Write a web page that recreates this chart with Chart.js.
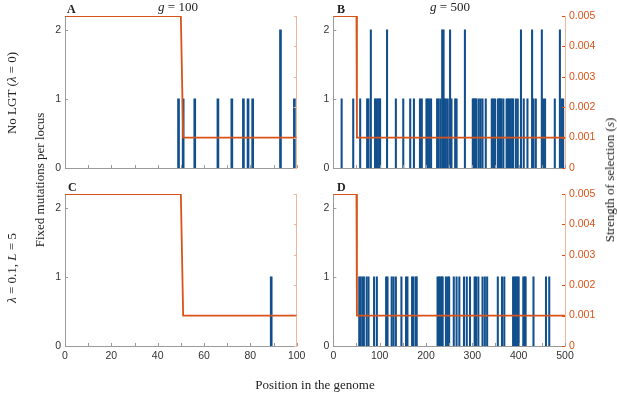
<!DOCTYPE html>
<html>
<head>
<meta charset="utf-8">
<script src="https://cdn.jsdelivr.net/npm/chart.js@4/dist/chart.umd.min.js"></script>
<style>
  body { margin: 0; background: #fff; }
  #wrap { position: relative; width: 617px; height: 395px; overflow: hidden; font-family: "Liberation Serif", serif; color: #222; }
  #wrap canvas { position: absolute; left: 0; top: 0; }
  .lbl { position: absolute; font-size: 13px; white-space: nowrap; }
  .rot { transform: translate(-50%, -50%) rotate(-90deg); }
  .ctr { transform: translate(-50%, -50%); }
  .letter { position: absolute; font-weight: bold; font-size: 12px; }
</style>
</head>
<body>
<div id="wrap">
  <canvas id="cA" width="617" height="395"></canvas>
  <canvas id="cB" width="617" height="395"></canvas>
  <canvas id="cC" width="617" height="395"></canvas>
  <canvas id="cD" width="617" height="395"></canvas>

  <div class="lbl ctr" style="left:178px; top:7px;"><i>g</i> = 100</div>
  <div class="lbl ctr" style="left:450px; top:7px;"><i>g</i> = 500</div>
  <div class="letter" style="left:67px; top:2px;">A</div>
  <div class="letter" style="left:337px; top:2px;">B</div>
  <div class="letter" style="left:68px; top:180px;">C</div>
  <div class="letter" style="left:337px; top:180px;">D</div>
  <div class="lbl rot" style="left:12px; top:93px;">No LGT (<i>λ</i> = 0)</div>
  <div class="lbl rot" style="left:12px; top:268px;"><i>λ</i> = 0.1, <i>L</i> = 5</div>
  <div class="lbl rot" style="left:40px; top:180px;">Fixed mutations per locus</div>
  <div class="lbl rot" style="left:610px; top:180px;">Strength of selection (<i>s</i>)</div>
  <div class="lbl ctr" style="left:315px; top:385px;">Position in the genome</div>
</div>

<script>
// --- DATA ---
// panel A: g = 100, no LGT
const aPos   = [49, 51, 56, 66, 72, 77, 79, 81, 93, 99];
const aCount = [1, 1, 1, 1, 1, 1, 1, 1, 2, 1];

// panel B: g = 500, no LGT
const bPos = [18, 43, 58, 73, 76, 81, 90, 93, 96, 99, 101, 116, 135, 151, 166, 174, 187, 191,
  201, 204, 207, 211, 224, 227, 231, 235, 238, 240, 243, 247, 252, 255, 263, 266, 284,
  301, 303, 305, 307, 309, 314, 318, 322, 329, 342, 345, 349, 355, 358, 360, 363, 367,
  374, 377, 380, 383, 386, 388, 394, 398, 405, 411, 419, 429, 432, 437, 450, 453, 457,
  478, 489, 493, 496];
const bCount = [1, 1, 1, 1, 1, 2, 1, 1, 1, 1, 1, 2, 1, 1, 1, 1, 1, 1,
  1, 1, 1, 1, 1, 1, 1, 2, 2, 1, 1, 1, 2, 1, 1, 1, 2,
  1, 1, 1, 1, 1, 1, 1, 1, 1, 1, 1, 1, 1, 1, 1, 1, 1,
  1, 1, 1, 1, 1, 1, 1, 1, 2, 1, 1, 2, 1, 1, 2, 1, 1,
  1, 2, 1, 1];

// panel C: g = 100, lambda = 0.1
const cPos   = [89];
const cCount = [1];

// panel D: g = 500, lambda = 0.1 (all single fixations)
const dPos = [56, 59, 63, 66, 72, 76, 88, 94, 114, 117, 126, 130, 135, 147, 157, 160, 170, 173,
  178, 180, 225, 228, 231, 234, 236, 243, 247, 250, 260, 266, 272, 282, 288, 295, 305, 308,
  313, 322, 327, 332, 355, 364, 369, 388, 391, 394, 397, 400, 410, 413, 415, 432, 459, 466];
const dCount = dPos.map(() => 1);

// selection strength profile (s): strong region at the start, weak elsewhere
const selPosSmall = [0, 50, 51, 100];
const selPosLarge = [0, 50, 51, 500];
const selValues   = [0.005, 0.005, 0.001, 0.001];

// axis ticks
const countTicks = [0, 1, 2];
const selTicks   = [0, 0.001, 0.002, 0.003, 0.004, 0.005];

// --- STYLE ---
const BAR = '#114f8d';
const ORANGE = '#d95319';
const PALE = '#f2b59b';
const GREY = '#9a9a9a';

Chart.defaults.font.family = '"Liberation Sans", Arial, sans-serif';
Chart.defaults.font.size = 10.5;
Chart.defaults.color = '#333';

// MATLAB-style inward tick marks
const inwardTicks = {
  id: 'inwardTicks',
  afterDatasetsDraw(chart) {
    const ctx = chart.ctx;
    const area = chart.chartArea;
    const { x, y, y2 } = chart.scales;
    ctx.save();
    ctx.lineWidth = 1;
    ctx.strokeStyle = GREY;
    ctx.beginPath();
    x.ticks.forEach(t => {
      const px = Math.round(x.getPixelForValue(t.value)) + 0.5;
      ctx.moveTo(px, area.bottom); ctx.lineTo(px, area.bottom - 3);
    });
    y.ticks.forEach(t => {
      const py = Math.round(y.getPixelForValue(t.value)) + 0.5;
      ctx.moveTo(area.left, py); ctx.lineTo(area.left + 3, py);
    });
    ctx.stroke();
    ctx.strokeStyle = chart.options.showSel ? ORANGE : PALE;
    ctx.beginPath();
    y2.ticks.forEach(t => {
      const py = Math.round(y2.getPixelForValue(t.value)) + 0.5;
      ctx.moveTo(area.right, py); ctx.lineTo(area.right - 3, py);
    });
    ctx.stroke();
    ctx.restore();
  }
};

function makePanel(id, cfg) {
  const bars = cfg.pos.map((p, i) => ({ x: p, y: cfg.count[i] }));
  const sel = cfg.selPos.map((p, i) => ({ x: p, y: selValues[i] }));
  return new Chart(document.getElementById(id), {
    type: 'bar',
    data: {
      datasets: [
        {
          type: 'line', data: sel, yAxisID: 'y2',
          borderColor: ORANGE, borderWidth: 1.8, pointRadius: 0, tension: 0
        },
        {
          data: bars, yAxisID: 'y',
          backgroundColor: BAR, barThickness: cfg.barW, grouped: false
        }
      ]
    },
    options: {
      responsive: false,
      animation: false,
      devicePixelRatio: 1,
      showSel: cfg.showSel,
      layout: { padding: cfg.pad },
      plugins: { legend: { display: false }, tooltip: { enabled: false } },
      scales: {
        x: {
          type: 'linear', min: 0, max: cfg.xMax, offset: false,
          grid: { display: false, drawTicks: false },
          border: { color: GREY },
          ticks: {
            stepSize: cfg.xStep, padding: 4, maxRotation: 0, autoSkip: false,
            callback: v => (cfg.xLabels && v % cfg.xLabelStep === 0) ? String(v) : ''
          },
          afterFit: s => { s.height = 20; }
        },
        y: {
          position: 'left', min: 0, max: 2.2,
          grid: { display: false, drawTicks: false },
          border: { color: GREY },
          ticks: { stepSize: 1, includeBounds: false, padding: 4 },
          afterBuildTicks: s => { s.ticks = countTicks.map(v => ({ value: v })); },
          afterFit: s => { s.width = 30; }
        },
        y2: {
          position: 'right', min: 0, max: 0.005,
          grid: { display: false, drawTicks: false },
          border: { color: PALE },
          ticks: {
            display: cfg.showSel, color: ORANGE, padding: 4,
            callback: v => v === 0 ? '0' : v.toFixed(3)
          },
          afterBuildTicks: s => { s.ticks = selTicks.map(v => ({ value: v })); },
          afterFit: s => { s.width = cfg.showSel ? 40 : 0; }
        }
      }
    },
    plugins: [inwardTicks]
  });
}

// plot areas: A/C x 65..296.7, B/D x 333.3..565; top row y 16..168, bottom row y 194..346
makePanel('cA', {
  pos: aPos, count: aCount, selPos: selPosSmall, xMax: 100, xStep: 10, xLabelStep: 20,
  xLabels: false, showSel: false, barW: 2,
  pad: { left: 35, right: 320.3, top: 16, bottom: 207 }
});
makePanel('cB', {
  pos: bPos, count: bCount, selPos: selPosLarge, xMax: 500, xStep: 50, xLabelStep: 100,
  xLabels: false, showSel: true, barW: 1.4,
  pad: { left: 303.3, right: 12, top: 16, bottom: 207 }
});
makePanel('cC', {
  pos: cPos, count: cCount, selPos: selPosSmall, xMax: 100, xStep: 10, xLabelStep: 20,
  xLabels: true, showSel: false, barW: 2,
  pad: { left: 35, right: 320.3, top: 194, bottom: 29 }
});
makePanel('cD', {
  pos: dPos, count: dCount, selPos: selPosLarge, xMax: 500, xStep: 50, xLabelStep: 100,
  xLabels: true, showSel: true, barW: 1.4,
  pad: { left: 303.3, right: 12, top: 194, bottom: 29 }
});
</script>
</body>
</html>
